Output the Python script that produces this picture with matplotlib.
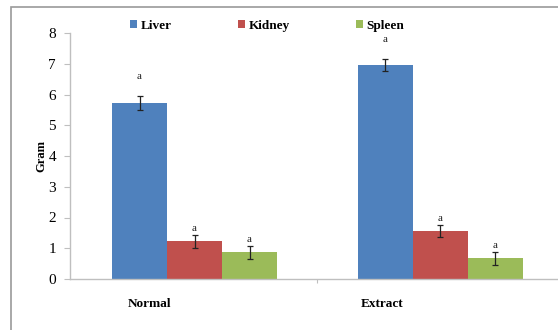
import matplotlib
matplotlib.use("Agg")
import matplotlib.pyplot as plt
import matplotlib.transforms as mtransforms
from matplotlib.patches import Rectangle
import numpy as np

categories = ["Normal", "Extract"]
series = ["Liver", "Kidney", "Spleen"]
values = {
    "Liver": [5.72, 6.95],
    "Kidney": [1.22, 1.56],
    "Spleen": [0.87, 0.67],
}
errors = {
    "Liver": [0.22, 0.2],
    "Kidney": [0.2, 0.2],
    "Spleen": [0.21, 0.2],
}
sig_labels = {
    "Liver": ["a", "a"],
    "Kidney": ["a", "a"],
    "Spleen": ["a", "a"],
}
colors = {"Liver": "#4F81BD", "Kidney": "#C0504D", "Spleen": "#9BBB59"}
yticks = [0, 1, 2, 3, 4, 5, 6, 7, 8]

serif = ["Liberation Serif", "DejaVu Serif"]
plt.rcParams["font.family"] = serif

fig = plt.figure(figsize=(5.58, 3.30), dpi=100)
W, H = 558, 330
ax = fig.add_axes([70 / W, (H - 279) / H, (W - 70) / W, (279 - 33) / H])

x = np.arange(len(categories))
bw = 0.224
label_off = {"Liver": 11, "Kidney": 1.5, "Spleen": 1.5}
for i, s in enumerate(series):
    xs = x + (i - 1) * bw
    ax.bar(xs, values[s], bw, color=colors[s], label=s, zorder=2)
    ax.errorbar(xs, values[s], yerr=errors[s], fmt="none", ecolor="#222222",
                elinewidth=0.9, capsize=2.5, capthick=0.9, zorder=3)
    for xi, v, e, t in zip(xs, values[s], errors[s], sig_labels[s]):
        ax.annotate(t, (xi, v + e), xytext=(0, label_off[s]), textcoords="offset points",
                    ha="center", va="bottom", fontsize=8, color="#222222")

ax.set_ylim(0, 8)
ax.set_xlim(-0.507, 1.48)
ax.set_yticks(yticks)
ax.set_yticklabels([str(t) for t in yticks], fontsize=11)
ax.set_xticks([0.5])
ax.set_xticklabels([""])
ax.tick_params(axis="y", length=4, color="#bfbfbf", pad=6)
ax.tick_params(axis="x", length=3, color="#bfbfbf", direction="out")
for sp in ["top", "right"]:
    ax.spines[sp].set_visible(False)
for sp in ["left", "bottom"]:
    ax.spines[sp].set_color("#bfbfbf")
    ax.spines[sp].set_linewidth(1.0)
ax.spines["bottom"].set_clip_on(False)

# category labels (offset left like the original)
cat_shift = [-45, -58]
for xi, c, sh in zip(x, categories, cat_shift):
    tr = ax.get_xaxis_transform() + mtransforms.ScaledTranslation(sh / 100, 0, fig.dpi_scale_trans)
    ax.text(xi, -0.1, c, transform=tr, ha="center", va="center",
            fontsize=9.5, fontweight="bold")

fig.text(41 / W, 1 - 156 / H, "Gram", rotation=90, ha="center", va="center",
         fontsize=9, fontweight="bold")

leg = fig.legend(loc="center", bbox_to_anchor=(267 / W, 1 - 26 / H), ncol=3,
                 frameon=False, handlelength=0.55, handleheight=0.55,
                 handletextpad=0.25, columnspacing=5.0,
                 prop={"family": serif, "weight": "bold", "size": 9.5})

fig.patches.append(Rectangle((11 / W, -0.1), 1.1, 1 - 7 / H + 0.1, transform=fig.transFigure,
                             fill=False, edgecolor="#9a9a9a", linewidth=1.2))

fig.savefig("out.png", dpi=100)
